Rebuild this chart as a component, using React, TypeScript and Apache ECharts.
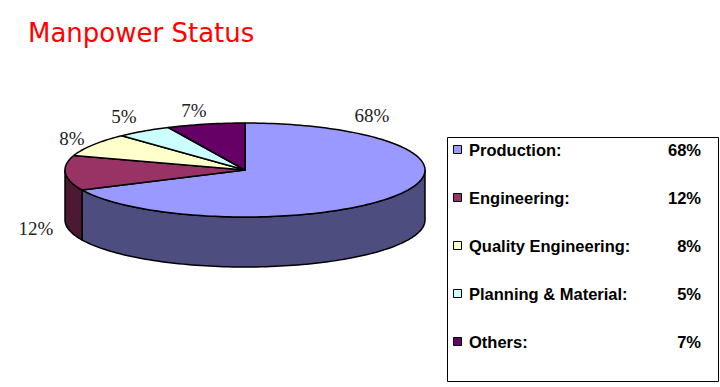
import React, { useEffect, useRef } from "react";
import * as echarts from "echarts";

const categories = ["Production", "Engineering", "Quality Engineering", "Planning & Material", "Others"];
const values = [68, 12, 8, 5, 7];
const topColors = ["#9999FF", "#993366", "#FFFFCC", "#CCFFFF", "#660066"];
const sideColors = ["#4D4D80", "#4C1933", "#80806A", "#6A8080", "#330033"];

// layout constants
const CX = 245;
const CY = 170;
const RX = 180;
const RY = 47;
const DEPTH = 50;
const LABEL_POS: [number, number][] = [
  [372, 115],
  [36, 228],
  [72, 138],
  [124, 116],
  [194, 110],
];

export default function App() {
  const ref = useRef<HTMLDivElement>(null);
  useEffect(() => {
    if (!ref.current) return;
    const chart = echarts.init(ref.current, undefined, { renderer: "svg" });
    const total = values.reduce((a, b) => a + b, 0);
    const cum: number[] = [0];
    values.forEach((v, i) => cum.push(cum[i] + v));

    const pt = (a: number, dy = 0): number[] => [CX + RX * Math.sin(a), CY - RY * Math.cos(a) + dy];
    const arc = (a0: number, a1: number, dy = 0): number[][] => {
      const n = Math.max(2, Math.ceil(Math.abs(a1 - a0) / (Math.PI / 120)));
      const out: number[][] = [];
      for (let k = 0; k <= n; k++) out.push(pt(a0 + ((a1 - a0) * k) / n, dy));
      return out;
    };

    const renderItem = (params: any, api: any) => {
      const i = params.dataIndex;
      const v = api.value(0);
      const a0 = (cum[i] / total) * Math.PI * 2;
      const a1 = ((cum[i] + v) / total) * Math.PI * 2;
      const children: any[] = [];
      // visible front side: angles between PI/2 and 3PI/2 (clockwise from top)
      const s0 = Math.max(a0, Math.PI / 2);
      const s1 = Math.min(a1, (Math.PI * 3) / 2);
      if (s1 > s0) {
        const topArc = arc(s0, s1, 0);
        const botArc = arc(s1, s0, DEPTH);
        children.push({
          type: "polygon",
          shape: { points: topArc.concat(botArc) },
          style: { fill: sideColors[i], stroke: "#000", lineWidth: 1.5, lineJoin: "round" },
        });
      }
      children.push({
        type: "polygon",
        shape: { points: [[CX, CY]].concat(arc(a0, a1, 0)) },
        style: { fill: topColors[i], stroke: "#000", lineWidth: 1.5, lineJoin: "round" },
      });
      children.push({
        type: "text",
        x: LABEL_POS[i][0],
        y: LABEL_POS[i][1],
        style: {
          text: v + "%",
          fill: "#222",
          font: "19px 'Liberation Serif'",
          align: "center",
          verticalAlign: "middle",
        },
      });
      return { type: "group", children };
    };

    const legendItems: any[] = [];
    categories.forEach((name, i) => {
      const y = 150 + i * 48;
      legendItems.push({
        type: "rect",
        shape: { x: 453.5, y: y - 4.5, width: 8, height: 8 },
        style: { fill: topColors[i], stroke: "#000", lineWidth: 1 },
      });
      legendItems.push({
        type: "text",
        x: 469,
        y: y,
        style: {
          text: name + ":",
          fill: "#000",
          font: "bold 16.5px 'Liberation Sans'",
          align: "left",
          verticalAlign: "middle",
        },
      });
      legendItems.push({
        type: "text",
        x: 701,
        y: y,
        style: {
          text: values[i] + "%",
          fill: "#000",
          font: "bold 16.5px 'Liberation Sans'",
          align: "right",
          verticalAlign: "middle",
        },
      });
    });

    chart.setOption({
      animation: false,
      backgroundColor: "#fff",
      series: [
        {
          type: "custom",
          coordinateSystem: "none",
          renderItem,
          data: values.map((v) => [v]),
          silent: true,
        },
      ],
      graphic: [
        {
          type: "text",
          x: 28,
          y: 33,
          style: {
            text: "Manpower Status",
            fill: "#FF0000",
            font: "26px 'DejaVu Sans'",
            align: "left",
            verticalAlign: "middle",
          },
        },
        {
          type: "rect",
          shape: { x: 447.5, y: 137.5, width: 271, height: 244 },
          style: { fill: "#fff", stroke: "#000", lineWidth: 1 },
        },
        ...legendItems,
      ],
    });
    return () => chart.dispose();
  }, []);
  return <div ref={ref} style={{ position: "absolute", left: 0, top: 0, width: 720, height: 387 }} />;
}
